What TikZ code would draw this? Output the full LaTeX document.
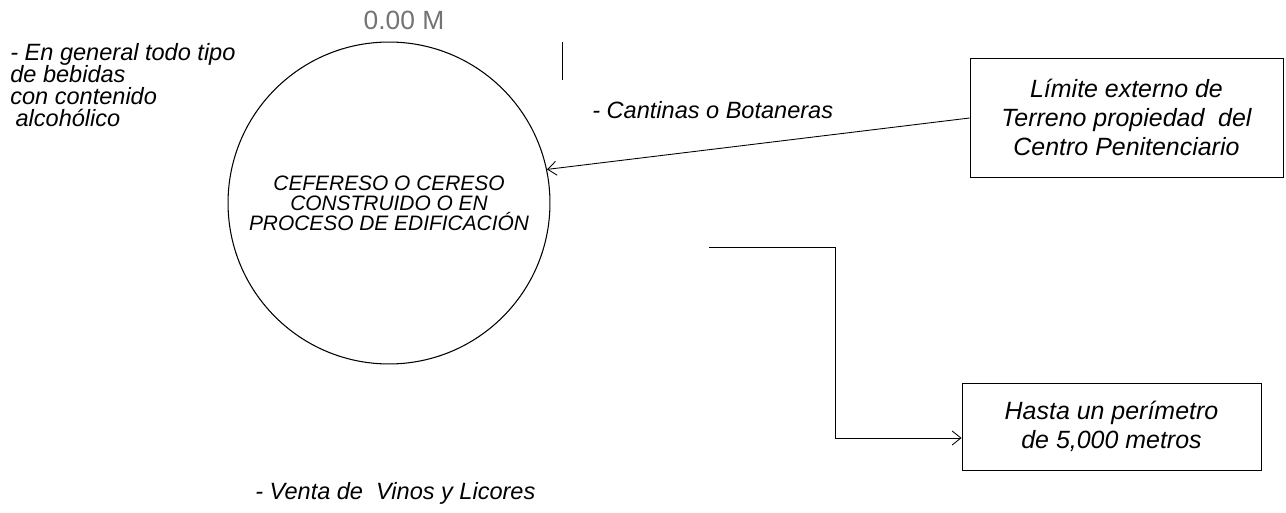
\documentclass[tikz,border=0pt]{standalone}
\usepackage{fontspec}
\setmainfont{Liberation Sans}
\usetikzlibrary{arrows.meta}
\tikzset{
  >={Straight Barb[length=5pt,width=8pt]},
  circulo/.style={circle,draw,line width=0.6pt,minimum size=6.44cm,inner sep=0pt,
    align=center,font=\itshape\fontsize{11.9}{11.4}\selectfont},
  caja/.style={rectangle,draw,line width=0.5pt,inner sep=0pt,align=center,
    font=\itshape\fontsize{14.2}{16.4}\selectfont},
  nota/.style={inner sep=0pt,align=left,font=\itshape\fontsize{13.4}{12.6}\selectfont}
}
\begin{document}
\begin{tikzpicture}[x=0.02cm,y=-0.02cm]
      \useasboundingbox (0,0) rectangle (1286,513);
      \draw
        (389,203) node[circulo] (c){CEFERESO O CERESO\\CONSTRUIDO O EN\\PROCESO DE EDIFICACIÓN}
        (404,20) node[inner sep=0pt,text=black!55,font=\fontsize{15}{18}\selectfont] (m){0.00 M}
        (10,85) node[nota,anchor=west] (t1){- En general todo tipo\\de bebidas\\con contenido\\\hspace*{3pt}alcohólico}
        (592,110) node[nota,anchor=west] (t2){- Cantinas o Botaneras}
        (255,493) node[nota,anchor=west] (t3){- Venta de~ Vinos y Licores}
        (1126.5,117.5) node[caja,minimum width=6.26cm,minimum height=2.38cm] (lim){Límite externo de\\Terreno propiedad~ del\\Centro Penitenciario}
        (1111.5,426.5) node[caja,minimum width=5.98cm,minimum height=1.74cm] (per){Hasta un perímetro\\de 5,000 metros};
      \coordinate (r1) at (562,42);
      \coordinate (r2) at (562,80);
      \coordinate (ini) at (709,247);
      \coordinate (codo) at (835,438);
      \begin{scope}[line width=0.5pt]
        \draw (r1) to (r2);
        \draw[->] (lim.west |- 0,118) to (c.12);
        \draw[->] (ini) -| (codo) -- (codo -| per.west);
      \end{scope}
    \end{tikzpicture}
\end{document}
